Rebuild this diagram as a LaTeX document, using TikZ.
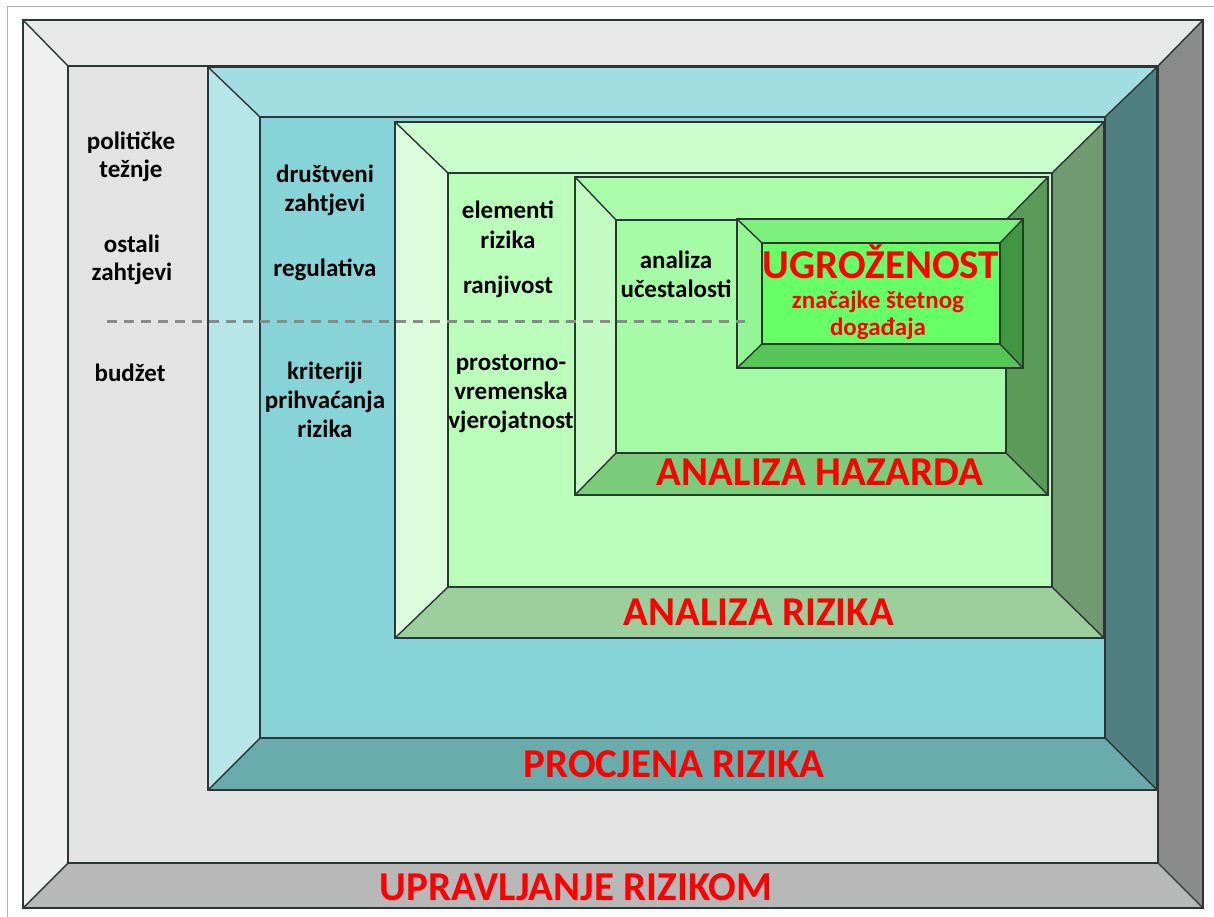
\documentclass[tikz,border=0pt]{standalone}
\usepackage{fontspec}
\setmainfont{Carlito}
\definecolor{aatop}{HTML}{E8E8E8}
\definecolor{aaleft}{HTML}{F0F0F0}
\definecolor{aaright}{HTML}{8A8A8A}
\definecolor{aabot}{HTML}{B8B8B8}
\definecolor{aaface}{HTML}{E3E3E3}
\definecolor{bbtop}{HTML}{A2DDE1}
\definecolor{bbleft}{HTML}{B7E6E8}
\definecolor{bbright}{HTML}{4F7F80}
\definecolor{bbbot}{HTML}{6AABAB}
\definecolor{bbface}{HTML}{86D3D8}
\definecolor{cctop}{HTML}{CCFDCC}
\definecolor{ccleft}{HTML}{DCFDDC}
\definecolor{ccright}{HTML}{729A72}
\definecolor{ccbot}{HTML}{9DCF9D}
\definecolor{ccface}{HTML}{BBFDBB}
\definecolor{ddtop}{HTML}{AAFBAA}
\definecolor{ddleft}{HTML}{C3FBC3}
\definecolor{ddright}{HTML}{5A9B5A}
\definecolor{ddbot}{HTML}{7ACB7A}
\definecolor{ddface}{HTML}{A6FBA6}
\definecolor{eetop}{HTML}{7DEF7D}
\definecolor{eeleft}{HTML}{93F593}
\definecolor{eeright}{HTML}{3F983F}
\definecolor{eebot}{HTML}{55C555}
\definecolor{eeface}{HTML}{66FF66}
\definecolor{edgecol}{HTML}{2B3635}
\definecolor{dashcol}{HTML}{8A8A8A}
\definecolor{titlered}{HTML}{FF0000}
\newcommand\bevbox[9]{%
 \fill[#9top] (#1,#2) -- (#3,#2) -- (#7,#6) -- (#5,#6) -- cycle;
 \fill[#9left] (#1,#2) -- (#5,#6) -- (#5,#8) -- (#1,#4) -- cycle;
 \fill[#9right] (#3,#2) -- (#3,#4) -- (#7,#8) -- (#7,#6) -- cycle;
 \fill[#9bot] (#1,#4) -- (#3,#4) -- (#7,#8) -- (#5,#8) -- cycle;
 \fill[#9face] (#5,#6) rectangle (#7,#8);
 \draw[edge] (#1,#2) -- (#5,#6) (#3,#2) -- (#7,#6) (#1,#4) -- (#5,#8) (#3,#4) -- (#7,#8);
 \draw[edge] (#5,#6) rectangle (#7,#8);
 \draw[edge] (#1,#2) rectangle (#3,#4);
}
\begin{document}
\begin{tikzpicture}[x=1pt,y=-1pt,
  edge/.style={draw=edgecol,line width=1.4pt,line join=miter},
  lbl/.style={font=\fontsize{25}{29}\selectfont\bfseries,align=center,anchor=base,inner sep=0pt},
  ttl/.style={font=\fontsize{41}{48}\selectfont\bfseries,text=titlered,anchor=base,inner sep=0pt},
  sub/.style={font=\fontsize{25}{27}\selectfont\bfseries,text=titlered,align=center,anchor=base,inner sep=0pt},
  dashline/.style={draw=dashcol,line width=3pt,dash pattern=on 10pt off 7pt}]
\useasboundingbox (0,0) rectangle (1214,917);
\fill[white] (0,0) rectangle (1214,917);
\draw[gray!60,line width=1pt] (7,917) -- (7,7) -- (1214,7);
\bevbox{23}{20}{1203}{908}{68}{66}{1158}{863}{aa}
\bevbox{208}{67}{1157}{790}{260}{117}{1105}{738}{bb}
\bevbox{395}{122}{1104}{638}{448}{173}{1052}{587}{cc}
\bevbox{575}{177}{1048}{495}{616}{220}{1006}{453}{dd}
\bevbox{737}{219}{1023}{368}{762}{243}{1000}{344}{ee}
\coordinate (dA) at (107,321);
\coordinate (dB) at (745,321);
\draw[dashline] (dA) -- (dB);
% black labels (multi-line: anchored at last baseline)
\node[lbl] (pol) at (131,178) {političke\\[-1pt]težnje};
\node[lbl] (ost) at (132,280) {ostali\\[-1pt]zahtjevi};
\node[lbl] (bud) at (130,381) {budžet};
\node[lbl] (dru) at (325,212) {društveni\\zahtjevi};
\node[lbl] (reg) at (325,276) {regulativa};
\node[lbl] (kri) at (325,437) {kriteriji\\prihvaćanja\\rizika};
\node[lbl] (ele) at (508,248) {elementi\\rizika};
\node[lbl] (ran) at (508,293) {ranjivost};
\node[lbl] (pro) at (511,428) {prostorno-\\vremenska\\vjerojatnost};
\node[lbl] (ana) at (676,297) {analiza\\učestalosti};
% red titles
\node[ttl] (ugr) at (881,278) {UGROŽENOST};
\node[sub] (zna) at (878,335) {značajke štetnog\\događaja};
\node[ttl] (ah) at (820,485) {ANALIZA HAZARDA};
\node[ttl] (ar) at (759,625) {ANALIZA RIZIKA};
\node[ttl] (pr) at (674,777) {PROCJENA RIZIKA};
\node[ttl] (ur) at (576,900) {UPRAVLJANJE RIZIKOM};
\end{tikzpicture}
\end{document}
